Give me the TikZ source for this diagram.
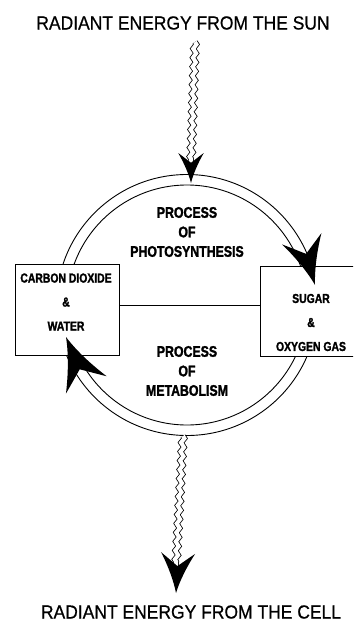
\documentclass[tikz,border=0pt]{standalone}
\usepackage{fontspec}
\setmainfont{Liberation Sans}
\newfontfamily\headfont[FakeStretch=0.92,FakeBold=0.6]{Liberation Sans}
\newfontfamily\tagfont[FakeStretch=0.8,FakeBold=1.6]{Liberation Sans Bold}
\usetikzlibrary{decorations.pathmorphing}

\begin{document}
\begin{tikzpicture}[x=1pt,y=1pt,line width=0.9pt,
  box/.style={draw,fill=white,rectangle,inner sep=0pt},
  head/.style={font=\headfont\fontsize{19}{22}\selectfont},
  tag/.style={font=\tagfont\fontsize{15.4}{19.5}\selectfont,align=center},
  boxtag/.style={font=\tagfont\fontsize{13}{24}\selectfont,align=center},
  wave/.style={double,double distance=4pt,line width=0.8pt,decorate,
    decoration={zigzag,segment length=9pt,amplitude=1.6pt}},
  barb/.pic={\fill (0,0) .. controls (-12,3) and (-26,9) .. (-40,17)
    .. controls (-34,9) and (-30,4) .. (-27,0)
    .. controls (-30,-4) and (-34,-9) .. (-40,-17)
    .. controls (-26,-9) and (-12,-3) .. (0,0);}]
\useasboundingbox (0,0) rectangle (353,-623);
\clip (0,0) rectangle (353,-623);

\node[head] (sun) at (183,-23) {RADIANT ENERGY FROM THE SUN};
\node[head] (cell) at (191,-612) {RADIANT ENERGY FROM THE CELL};

\coordinate (c) at (187,-305);
\draw (c) circle[radius=130.5];
\draw (c) circle[radius=120];

\node[tag] (photo) at (187,-232) {PROCESS\\OF\\PHOTOSYNTHESIS};
\node[tag] (meta) at (187,-371) {PROCESS\\OF\\METABOLISM};

\node[box,minimum width=104pt,minimum height=91pt] (co2) at (67,-309.5) {};
\node[box,minimum width=102pt,minimum height=90pt] (sugar) at (311,-311) {};
\node[boxtag] (co2txt) at (66,-302) {CARBON DIOXIDE\\\&\\WATER};
\node[boxtag] (sugartxt) at (311,-322.5) {SUGAR\\\&\\OXYGEN GAS};

\draw (co2.east |- c) -- (sugar.west |- c);

\coordinate (sunend) at (195,-42);
\coordinate (toptip) at (191,-183);
\draw[wave] (sunend) -- ([yshift=20pt]toptip);
\pic[rotate=-90,scale=0.75] at (toptip) {barb};

\coordinate (sugartip) at (315,-285);
\pic[rotate=-74,scale=1.2] at (sugartip) {barb};

\coordinate (co2tip) at (66,-337);
\pic[rotate=113,scale=1.3] at (co2tip) {barb};

\coordinate (botstart) at (183,-436);
\coordinate (bottip) at (176,-593);
\draw[wave] (botstart) -- ([yshift=27pt]bottip);
\pic[rotate=-93] at (bottip) {barb};
\end{tikzpicture}
\end{document}
